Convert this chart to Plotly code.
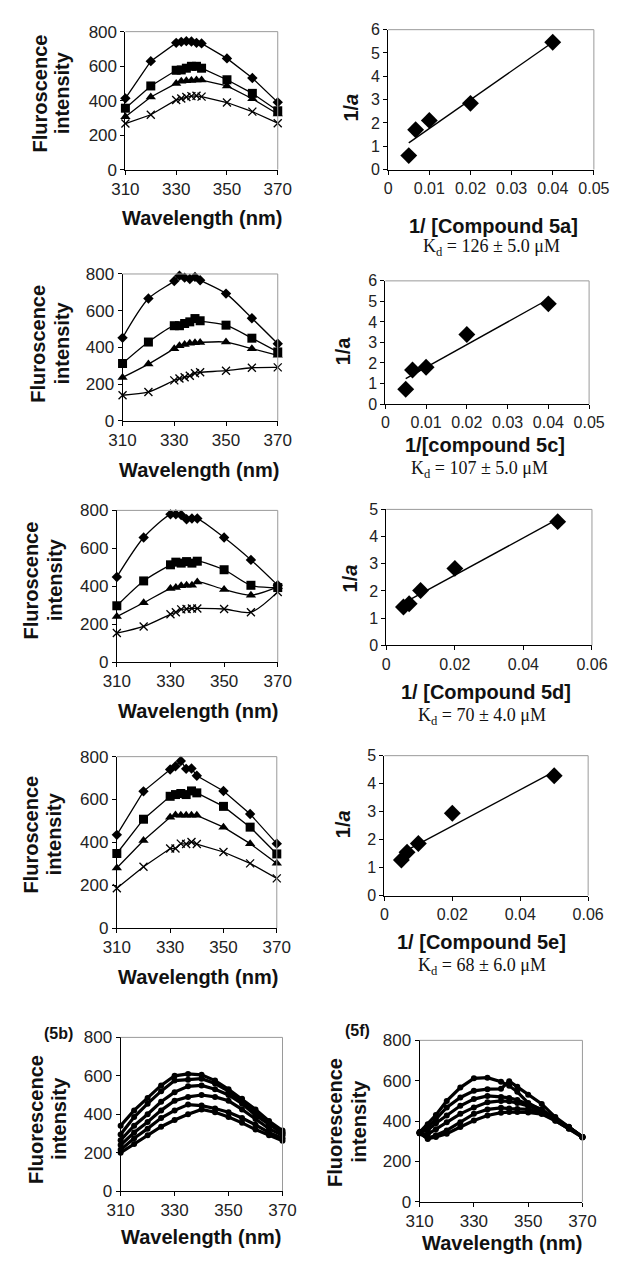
import plotly.graph_objects as go
import numpy as np

W, H = 627, 1271

# ---------------- data ----------------
wl = [310, 320, 330, 332, 334, 336, 338, 340, 350, 360, 370]

# 5a spectra
a_dia = [413, 629, 735, 741, 745, 743, 735, 732, 645, 531, 390]
a_sq = [356, 485, 576, 578, 588, 599, 599, 588, 521, 442, 341]
a_tri = [307, 421, 500, 512, 515, 517, 519, 519, 485, 411, 322]
a_x = [267, 318, 404, 412, 421, 426, 428, 423, 389, 336, 269]

# 5c spectra
c_dia = [452, 666, 762, 791, 780, 773, 784, 766, 693, 559, 420]
c_sq = [312, 429, 518, 518, 530, 539, 557, 545, 521, 450, 375]
c_tri = [236, 309, 393, 409, 416, 423, 425, 427, 429, 393, 357]
c_x = [139, 157, 220, 230, 237, 245, 259, 264, 273, 289, 291]

# 5d spectra
d_dia = [449, 657, 779, 779, 776, 753, 757, 757, 657, 539, 405]
d_sq = [297, 428, 513, 527, 522, 530, 522, 532, 487, 405, 393]
d_tri = [240, 313, 388, 393, 402, 405, 405, 423, 383, 353, 397]
d_x = [153, 188, 252, 263, 278, 280, 283, 283, 280, 263, 370]

# 5e spectra
e_dia = [435, 638, 740, 755, 780, 743, 745, 711, 640, 532, 394]
e_sq = [348, 508, 615, 623, 628, 623, 640, 631, 568, 471, 346]
e_tri = [280, 409, 517, 528, 526, 526, 526, 526, 471, 394, 302]
e_x = [186, 286, 371, 371, 394, 392, 402, 392, 355, 302, 232]

# double reciprocal plots
inv_conc4 = [0.005, 0.00667, 0.01, 0.02, 0.04]
inv_conc5 = [0.005, 0.00667, 0.01, 0.02, 0.05]
inv_a_5a = [0.60, 1.71, 2.11, 2.84, 5.46]
inv_a_5c = [0.72, 1.66, 1.79, 3.39, 4.88]
inv_a_5d = [1.41, 1.53, 2.02, 2.83, 4.55]
inv_a_5e = [1.27, 1.55, 1.86, 2.94, 4.28]

# 5b spectra
wl_b = [310, 315, 320, 325, 330, 335, 340, 345, 350, 355, 360, 365, 370]
b_series = [
    [340, 420, 485, 550, 600, 610, 605, 575, 530, 480, 425, 365, 315],
    [295, 385, 455, 520, 575, 580, 585, 560, 520, 465, 405, 350, 305],
    [265, 340, 400, 465, 515, 545, 550, 530, 500, 455, 395, 345, 300],
    [240, 305, 360, 420, 470, 490, 500, 490, 470, 425, 375, 325, 290],
    [215, 275, 325, 380, 420, 450, 445, 430, 410, 380, 345, 305, 275],
    [200, 245, 290, 335, 370, 400, 425, 410, 385, 355, 320, 290, 262],
]

# 5f spectra
wl_f = [310, 313, 316, 320, 325, 330, 335, 340, 343, 346, 350, 355, 360, 365, 370]
f_series = [
    [345, 385, 430, 500, 566, 612, 615, 595, 575, 545, 490, 455, 410, 370, 322],
    [345, 370, 410, 468, 517, 550, 558, 560, 598, 570, 530, 485, 420, 372, 322],
    [345, 355, 390, 428, 476, 509, 525, 520, 515, 505, 485, 458, 412, 370, 322],
    [340, 335, 360, 395, 436, 468, 493, 500, 498, 490, 475, 450, 410, 368, 322],
    [340, 315, 330, 354, 395, 436, 458, 466, 462, 460, 458, 442, 403, 363, 322],
    [340, 312, 322, 338, 371, 403, 428, 442, 445, 445, 443, 435, 402, 362, 319],
]

kd_texts = ["K<sub>d</sub> = 126 ± 5.0 μM", "K<sub>d</sub> = 107 ± 5.0 μM",
            "K<sub>d</sub> = 70 ± 4.0 μM", "K<sub>d</sub> = 68 ± 6.0 μM"]

# ---------------- layout helpers ----------------
SANS = "Liberation Sans, Arial, sans-serif"
SERIF = "Liberation Serif, Times New Roman, serif"

fig = go.Figure()
layout = dict(width=W, height=H, margin=dict(l=0, r=0, t=0, b=0),
              paper_bgcolor="white", plot_bgcolor="white", showlegend=False,
              font=dict(family=SANS, color="black"))
shapes, annots = [], []


def fx(px):
    return px / W


def fy(py):
    return 1 - py / H


def ax_ids(i):
    return ("x" if i == 1 else f"x{i}"), ("y" if i == 1 else f"y{i}")


def add_axes(i, box, xr, xtv, yr, ytv, tickfont):
    x0, x1, y0, y1 = box
    xk = "xaxis" if i == 1 else f"xaxis{i}"
    yk = "yaxis" if i == 1 else f"yaxis{i}"
    xid, yid = ax_ids(i)
    common = dict(showline=True, linecolor="black", linewidth=1, ticks="outside",
                  ticklen=4, tickcolor="black", showgrid=False, zeroline=False,
                  mirror=False, tickfont=dict(family=SANS, size=tickfont, color="#222"),
                  fixedrange=True)
    layout[xk] = dict(domain=[fx(x0), fx(x1)], anchor=yid, range=xr,
                      tickmode="array", tickvals=xtv, ticktext=[f"{v:g}" for v in xtv],
                      **common)
    layout[yk] = dict(domain=[fy(y1), fy(y0)], anchor=xid, range=yr,
                      tickmode="array", tickvals=ytv, ticktext=[f"{v:g}" for v in ytv],
                      **common)
    dref = "x domain" if i == 1 else f"x{i} domain"
    yref = "y domain" if i == 1 else f"y{i} domain"
    shapes.append(dict(type="line", xref=dref, yref=yref, x0=0, x1=1, y0=1, y1=1,
                       line=dict(color="#9a9a9a", width=1)))
    shapes.append(dict(type="line", xref=dref, yref=yref, x0=1, x1=1, y0=0, y1=1,
                       line=dict(color="#9a9a9a", width=1)))


def text(px, py, s, size=20, bold=True, angle=0, family=SANS):
    annots.append(dict(x=fx(px), y=fy(py), xref="paper", yref="paper",
                       text=(f"<b>{s}</b>" if bold else s), showarrow=False,
                       textangle=angle, xanchor="center", yanchor="middle",
                       font=dict(family=family, size=size, color="#111")))


def spectra(i, series, shape="linear"):
    xid, yid = ax_ids(i)
    styles = [dict(symbol="diamond", size=8),
              dict(symbol="square", size=9),
              dict(symbol="triangle-up", size=9),
              dict(symbol="x-thin-open", size=8, line=dict(width=1.3, color="black"))]
    for ys, st in zip(series, styles):
        m = dict(color="black", **st)
        fig.add_trace(go.Scatter(x=wl, y=ys, mode="lines+markers", xaxis=xid, yaxis=yid,
                                 line=dict(color="black", width=1.3, shape=shape,
                                           smoothing=0.8 if shape == "spline" else None),
                                 marker=m, cliponaxis=False))


def recip(i, xs, ys):
    xid, yid = ax_ids(i)
    k, b = np.polyfit(xs, ys, 1)
    xl = [min(xs), max(xs)]
    fig.add_trace(go.Scatter(x=xl, y=[k * v + b for v in xl], mode="lines",
                             xaxis=xid, yaxis=yid, line=dict(color="black", width=1.4)))
    fig.add_trace(go.Scatter(x=xs, y=ys, mode="markers", xaxis=xid, yaxis=yid,
                             marker=dict(symbol="diamond", size=13, color="black"),
                             cliponaxis=False))


def dense(i, xs, series):
    xid, yid = ax_ids(i)
    for ys in series:
        fig.add_trace(go.Scatter(x=xs, y=ys, mode="lines+markers", xaxis=xid, yaxis=yid,
                                 line=dict(color="black", width=3.2),
                                 marker=dict(symbol="circle", size=6, color="black"),
                                 cliponaxis=False))


wl_ticks = [310, 330, 350, 370]
int_ticks = [0, 200, 400, 600, 800]

# Row 1
add_axes(1, (117, 277, 23, 163), [310, 370], wl_ticks, [0, 800], int_ticks, 17)
spectra(1, [a_dia, a_sq, a_tri, a_x])
add_axes(2, (393, 609, 21, 163), [0, 0.05], [0, 0.01, 0.02, 0.03, 0.04, 0.05], [0, 6], list(range(7)), 16)
recip(2, inv_conc4, inv_a_5a)
text(197, 212, "Wavelength (nm)")
text(27, 86, "Fluroscence", angle=-90)
text(50, 85, "intensity", angle=-90)
text(504, 220, "1/ [Compound 5a]")
text(353, 100, "1/<i>a</i>", angle=-90)
text(502, 242, kd_texts[0], size=18, bold=False, family=SERIF)

# Row 2
add_axes(3, (114, 277, 269, 418), [310, 370], wl_ticks, [0, 800], int_ticks, 17)
spectra(3, [c_dia, c_sq, c_tri, c_x], shape="spline")
add_axes(4, (390, 604, 276, 401), [0, 0.05], [0, 0.01, 0.02, 0.03, 0.04, 0.05], [0, 6], list(range(7)), 16)
recip(4, inv_conc4, inv_a_5c)
text(194, 468, "Wavelength (nm)")
text(25, 340, "Fluroscence", angle=-90)
text(50, 339, "intensity", angle=-90)
text(495, 443, "1/[compound 5c]")
text(345, 347, "1/a", angle=-90)
text(489, 467, kd_texts[1], size=18, bold=False, family=SERIF)

# Row 3
add_axes(5, (108, 277, 509, 663), [310, 370], wl_ticks, [0, 800], int_ticks, 17)
spectra(5, [d_dia, d_sq, d_tri, d_x], shape="spline")
add_axes(6, (391, 607, 508, 646), [0, 0.06], [0, 0.02, 0.04, 0.06], [0, 5], list(range(6)), 16)
recip(6, inv_conc5, inv_a_5d)
text(193, 713, "Wavelength (nm)")
text(18, 580, "Fluroscence", angle=-90)
text(43, 579, "intensity", angle=-90)
text(496, 693, "1/ [Compound 5d]")
text(353, 578, "1/<i>a</i>", angle=-90)
text(491, 718, kd_texts[2], size=18, bold=False, family=SERIF)

# Row 4
add_axes(7, (108, 276, 759, 933), [310, 370], wl_ticks, [0, 800], int_ticks, 17)
spectra(7, [e_dia, e_sq, e_tri, e_x])
add_axes(8, (389, 603, 758, 900), [0, 0.06], [0, 0.02, 0.04, 0.06], [0, 5], list(range(6)), 16)
recip(8, inv_conc5, inv_a_5e)
text(193, 983, "Wavelength (nm)")
text(18, 838, "Fluroscence", angle=-90)
text(43, 837, "intensity", angle=-90)
text(491, 947, "1/ [Compound 5e]")
text(345, 827, "1/<i>a</i>", angle=-90)
text(491, 972, kd_texts[3], size=18, bold=False, family=SERIF)

# Row 5
add_axes(9, (112, 282, 1044, 1200), [310, 370], wl_ticks, [0, 800], int_ticks, 17)
dense(9, wl_b, b_series)
add_axes(10, (426, 597, 1047, 1211), [310, 370], wl_ticks, [0, 800], int_ticks, 17)
dense(10, wl_f, f_series)
text(196, 1247, "Wavelength (nm)")
text(23, 1127, "Fluorescence", angle=-90)
text(47, 1126, "intensity", angle=-90)
text(47, 1040, "(5b)", size=16)
text(513, 1253, "Wavelength (nm)")
text(337, 1130, "Fluorescence", angle=-90)
text(362, 1129, "intensity", angle=-90)
text(361, 1037, "(5f)", size=16)

layout["shapes"] = shapes
layout["annotations"] = annots
fig.update_layout(**layout)
fig.write_html("out.html", config={"displayModeBar": False},
               post_script="document.body.style.margin='0';document.body.style.overflow='hidden';")
